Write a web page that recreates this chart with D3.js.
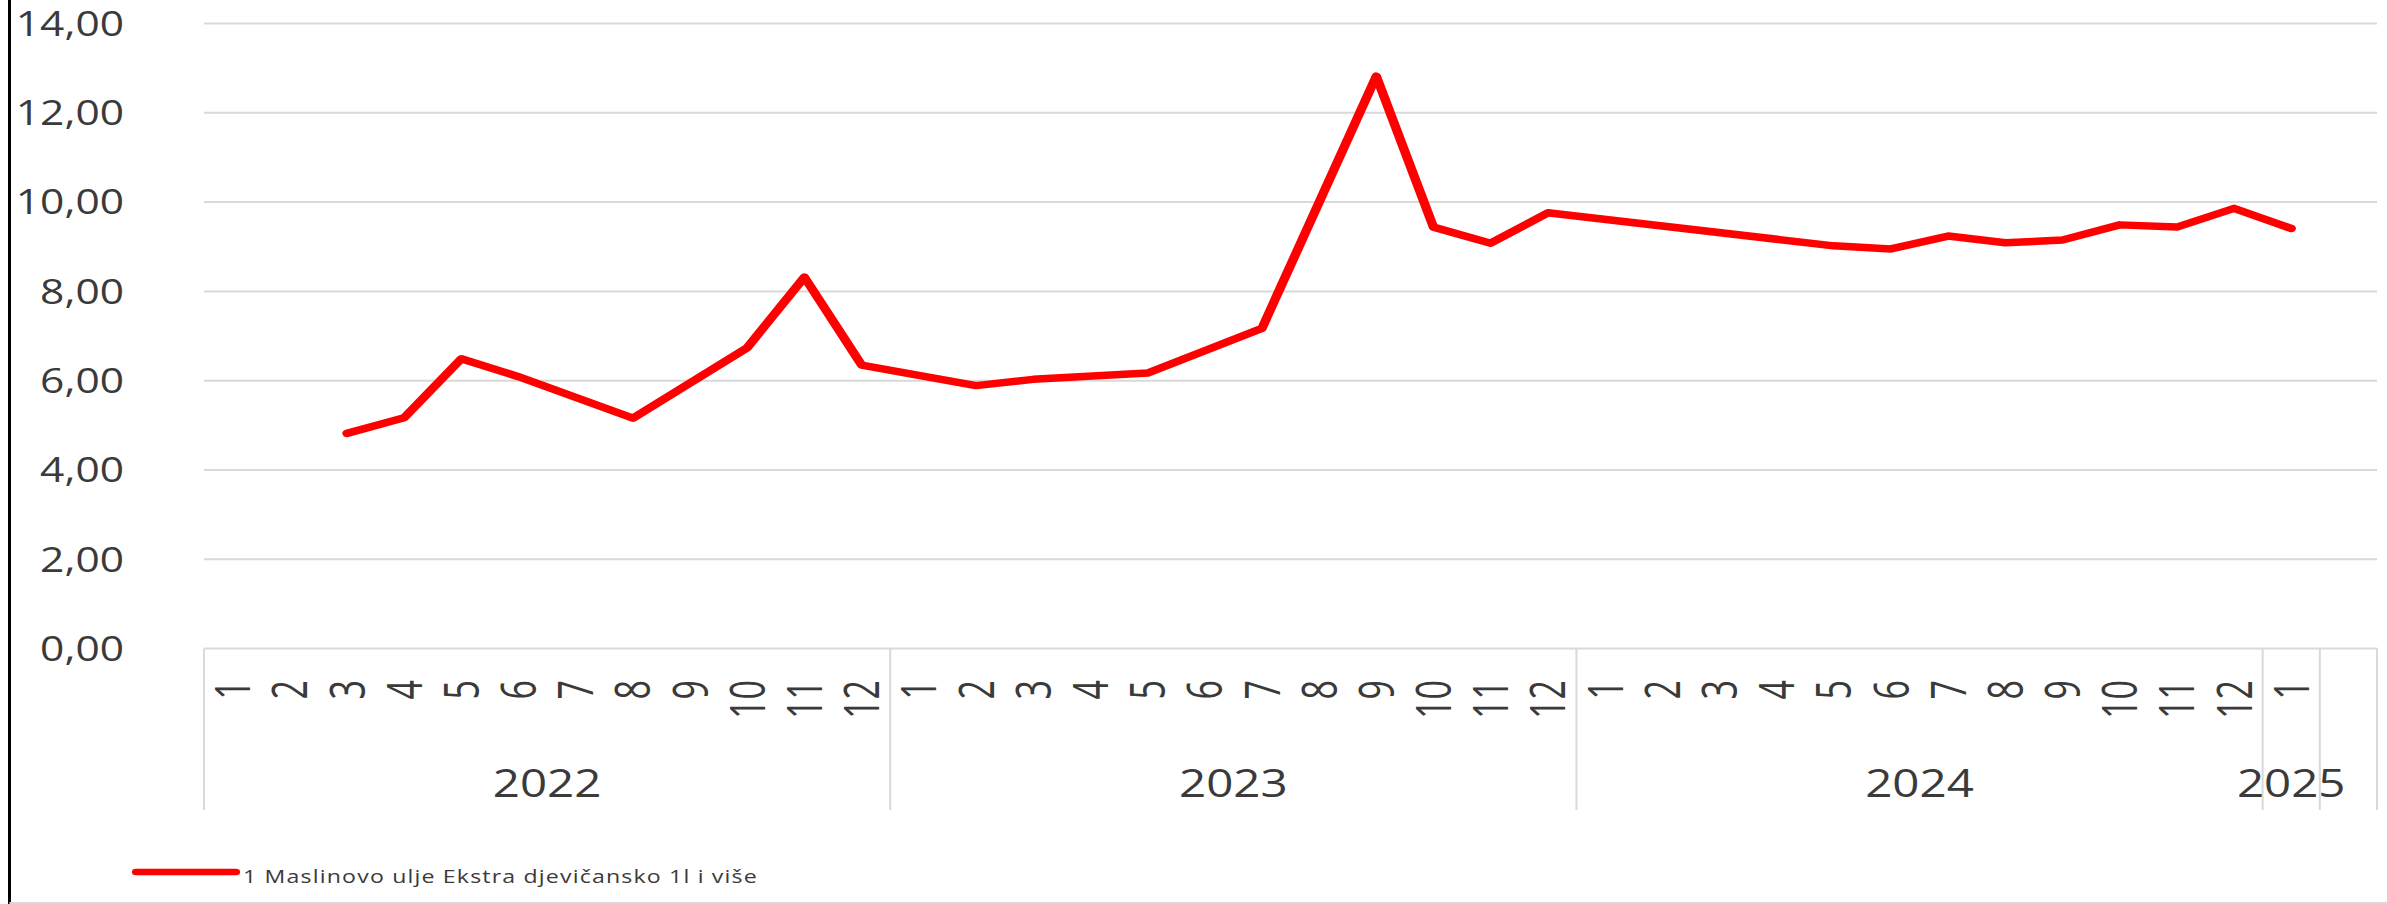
<!DOCTYPE html>
<html>
<head>
<meta charset="utf-8">
<script src="https://cdn.jsdelivr.net/npm/d3@7"></script>
<style>
  body { margin: 0; background: #fff; }
  text { font-family: "Open Sans", sans-serif; fill: #3a3a3a; }
</style>
</head>
<body>
<script>
// data
const yearGroups = ["2022", "2023", "2024", "2025", ""];
const groupSizes = [12, 12, 12, 1, 1];
const monthLabels = [
    "1", "2", "3", "4", "5", "6", "7", "8", "9", "10", "11", "12",
    "1", "2", "3", "4", "5", "6", "7", "8", "9", "10", "11", "12",
    "1", "2", "3", "4", "5", "6", "7", "8", "9", "10", "11", "12",
    "1", ""
];
const prices = [
    null, null, 4.82, 5.17, 6.49, 6.09, null, 5.16, null, 6.74, 8.32, 6.35,
    null, 5.89, 6.03, null, 6.17, null, 7.17, null, 12.82, 9.44, 9.08, 9.76,
    null, null, null, null, 9.02, 8.95, 9.24, 9.09, 9.15, 9.49, 9.44, 9.86,
    9.41, null
];
const yTicks = [0, 2, 4, 6, 8, 10, 12, 14];
const seriesName = "1 Maslinovo ulje Ekstra djevičansko 1l i više";

const outW = 2387, outH = 904;
const sx = 1.25;              // the original picture is stretched sideways
const width = outW / sx;
const height = outH;
const plot = { left: 163.2, right: 1901.6, top: 23.5, bottom: 648.6 };
const axisBottom = 810;

const svg = d3.select("body").append("svg")
    .attr("width", outW)
    .attr("height", outH)
    .attr("viewBox", `0 0 ${width} ${height}`)
    .attr("preserveAspectRatio", "none");

const x = d3.scaleBand()
    .domain(d3.range(monthLabels.length))
    .range([plot.left, plot.right])
    .padding(0);

const y = d3.scaleLinear()
    .domain([0, 14])
    .range([plot.bottom, plot.top]);

const fmt = d3.formatLocale({ decimal: ",", thousands: ".", grouping: [3], currency: ["", " €"] }).format(".2f");

// gridlines + y labels
svg.append("g")
    .selectAll("line")
    .data(yTicks.filter(d => d > 0))
    .join("line")
    .attr("x1", plot.left)
    .attr("x2", plot.right)
    .attr("y1", d => y(d))
    .attr("y2", d => y(d))
    .attr("stroke", "#d9d9d9")
    .attr("stroke-width", 2);

svg.append("g")
    .selectAll("text")
    .data(yTicks)
    .join("text")
    .attr("x", 99.2)
    .attr("y", d => y(d))
    .attr("dy", "0.36em")
    .attr("text-anchor", "end")
    .style("font-size", "34px")
    .text(d => fmt(d));

// category axis box
const axis = svg.append("g");
axis.append("line")
    .attr("x1", plot.left).attr("x2", plot.right)
    .attr("y1", y(0)).attr("y2", y(0))
    .attr("stroke", "#d9d9d9").attr("stroke-width", 2);

const starts = groupSizes.map((s, i) => d3.sum(groupSizes.slice(0, i)));
const bounds = starts.concat([monthLabels.length]);

axis.selectAll("line.sep")
    .data(bounds)
    .join("line")
    .attr("class", "sep")
    .attr("x1", d => d < monthLabels.length ? x(d) : plot.right)
    .attr("x2", d => d < monthLabels.length ? x(d) : plot.right)
    .attr("y1", y(0))
    .attr("y2", axisBottom)
    .attr("stroke", "#d9d9d9")
    .attr("stroke-width", 1.6);

// month labels: rotated, glyphs a little taller than the value labels
axis.selectAll("text.month")
    .data(monthLabels)
    .join("text")
    .attr("class", "month")
    .attr("transform", (d, i) => `translate(${x(i) + x.bandwidth() / 2},680) rotate(-90) scale(1,1.15)`)
    .attr("dy", "0.36em")
    .attr("text-anchor", "end")
    .style("font-size", "34px")
    .text(d => d);

axis.selectAll("text.year")
    .data(yearGroups)
    .join("text")
    .attr("class", "year")
    .attr("x", (d, i) => x(starts[i]) + x.bandwidth() * groupSizes[i] / 2)
    .attr("y", 797)
    .attr("text-anchor", "middle")
    .style("font-size", "38px")
    .text(d => d);

// the series, gaps bridged like the original
const points = prices.map((v, i) => ({ i, v })).filter(d => d.v !== null);
const line = d3.line()
    .x(d => x(d.i) + x.bandwidth() / 2)
    .y(d => y(d.v));

svg.append("path")
    .datum(points)
    .attr("d", line)
    .attr("fill", "none")
    .attr("stroke", "#ff0000")
    .attr("stroke-width", 7.5)
    .attr("stroke-linejoin", "round")
    .attr("stroke-linecap", "round");

// legend
svg.append("line")
    .attr("x1", 108.8).attr("x2", 188.8)
    .attr("y1", 872).attr("y2", 872)
    .attr("stroke", "#ff0000")
    .attr("stroke-width", 6.5)
    .attr("stroke-linecap", "round");

svg.append("text")
    .attr("x", 194.4)
    .attr("y", 883)
    .attr("textLength", 411)
    .attr("lengthAdjust", "spacing")
    .style("font-size", "18.5px")
    .text(seriesName);

// chart frame (left edge and bottom edge visible)
svg.append("line")
    .attr("x1", 7.6).attr("x2", 7.6)
    .attr("y1", 0).attr("y2", height)
    .attr("stroke", "#000").attr("stroke-width", 2.4);
svg.append("line")
    .attr("x1", 7.6).attr("x2", width)
    .attr("y1", 903).attr("y2", 903)
    .attr("stroke", "#d9d9d9").attr("stroke-width", 2);
</script>
</body>
</html>
